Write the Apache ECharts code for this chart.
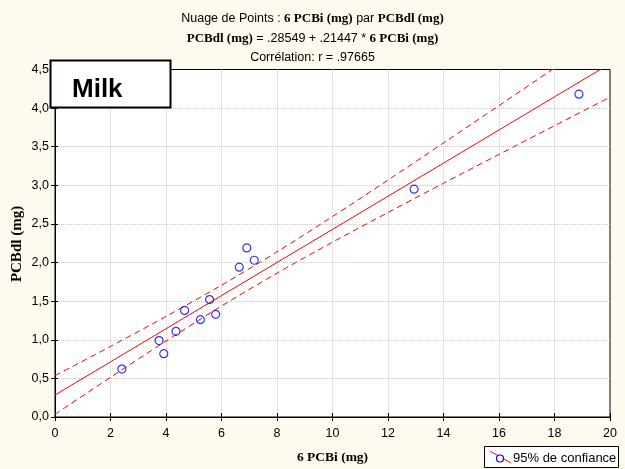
<!DOCTYPE html>
<html><head><meta charset="utf-8">
<script src="https://cdn.jsdelivr.net/npm/echarts@6/dist/echarts.min.js"></script>
<style>html,body{margin:0;padding:0;background:#FFFAF0}#c{width:625px;height:469px}</style>
</head><body><div id="c"></div>
<script>
// Observed points: 6 PCBi (mg) vs PCBdl (mg)
const pcbi = [2.41, 3.75, 3.92, 4.36, 4.67, 5.24, 5.57, 5.79, 6.64, 6.91, 7.18, 12.94, 18.88];
const pcbdl = [0.62, 0.99, 0.82, 1.11, 1.38, 1.26, 1.52, 1.33, 1.94, 2.19, 2.03, 2.95, 4.18];
// Regression line and 95% band, read at these x positions
const bandX = [0, 2, 4, 6, 8, 10, 12, 14, 16, 18, 20];
const fitY = [0.285, 0.714, 1.143, 1.572, 2.001, 2.430, 2.859, 3.288, 3.717, 4.146, 4.575];
const upperY = [0.535, 0.914, 1.302, 1.707, 2.139, 2.596, 3.069, 3.549, 4.033, 4.520, 5.008];
const lowerY = [0.035, 0.514, 0.984, 1.437, 1.863, 2.264, 2.649, 3.027, 3.401, 3.772, 4.142];
const xTicks = [0, 2, 4, 6, 8, 10, 12, 14, 16, 18, 20];
const yTicks = [0, 0.5, 1, 1.5, 2, 2.5, 3, 3.5, 4, 4.5];

const zip = (a, b) => a.map((v, i) => [v, b[i]]);
const chart = echarts.init(document.getElementById('c'));
const sans = 'Liberation Sans, Arial, sans-serif';
const serif = 'Liberation Serif, Times New Roman, serif';
const red = '#ff0000';
const split = {show: true, showMaxLine: false, showMinLine: false, lineStyle: {color: '#c8c8c8', type: [1, 1]}};
chart.setOption({
  backgroundColor: '#FFFAF0',
  animation: false,
  title: {
    left: 'center', top: 4,
    text: '{n|Nuage de Points : }{b|6 PCBi (mg)}{n| par }{b|PCBdl (mg)}\n{b|PCBdl (mg)}{n| = .28549 + .21447 * }{b|6 PCBi (mg)}\n{n|Corrélation: r = .97665}',
    textStyle: {
      fontWeight: 'normal',
      rich: {
        n: {fontFamily: sans, fontSize: 12.5, fontWeight: 'normal', color: '#000', lineHeight: 19.5},
        b: {fontFamily: serif, fontSize: 13, fontWeight: 'bold', color: '#000', lineHeight: 19.5}
      }
    }
  },
  grid: {left: 55, top: 69.5, right: 15, bottom: 52, outerBoundsMode: 'none', containLabel: false,
    show: true, backgroundColor: '#fff', borderColor: '#000', borderWidth: 1},
  xAxis: [{
    type: 'value', min: 0, max: 20, interval: 2,
    name: '6 PCBi (mg)', nameLocation: 'middle', nameGap: 34,
    nameTextStyle: {fontFamily: serif, fontSize: 13.5, fontWeight: 'bold', color: '#000'},
    axisLine: {show: true, lineStyle: {color: '#000'}},
    axisTick: {show: true, inside: true, length: 4, lineStyle: {color: '#000'}},
    axisLabel: {fontFamily: sans, fontSize: 12.5, color: '#000', margin: 10,
      formatter: v => xTicks.includes(v) ? String(v) : ''},
    splitLine: split
  }, {
    type: 'value', min: 0, max: 20, interval: 2, position: 'top',
    axisLine: {show: true, lineStyle: {color: '#000'}},
    axisTick: {show: true, inside: true, length: 4, lineStyle: {color: '#000'}},
    axisLabel: {show: false}, splitLine: {show: false}
  }],
  yAxis: [{
    type: 'value', min: 0, max: 4.5, interval: 0.5,
    axisLine: {show: true, lineStyle: {color: '#000'}},
    axisTick: {show: true, inside: false, length: 4, lineStyle: {color: '#000'}},
    axisLabel: {fontFamily: sans, fontSize: 12.5, color: '#000', margin: 6,
      formatter: v => yTicks.some(t => Math.abs(t - v) < 1e-9) ? v.toFixed(1).replace('.', ',') : ''},
    splitLine: split
  }, {
    type: 'value', min: 0, max: 4.5, interval: 0.5, position: 'right',
    axisLine: {show: true, lineStyle: {color: '#000'}},
    axisTick: {show: true, inside: false, length: 3, lineStyle: {color: '#000'}},
    axisLabel: {show: false}, splitLine: {show: false}
  }],
  series: [
    {type: 'line', data: zip(bandX, fitY), showSymbol: false, clip: true,
      lineStyle: {color: red, width: 1}, z: 3},
    {type: 'line', data: zip(bandX, upperY), showSymbol: false, clip: true, smooth: 0.3,
      lineStyle: {color: red, width: 1, type: [6, 4]}, z: 3},
    {type: 'line', data: zip(bandX, lowerY), showSymbol: false, clip: true, smooth: 0.3,
      lineStyle: {color: red, width: 1, type: [6, 4]}, z: 3},
    {type: 'scatter', data: zip(pcbi, pcbdl), symbol: 'circle', symbolSize: 8,
      itemStyle: {color: 'rgba(0,0,0,0)', borderColor: '#0000ff', borderWidth: 1.2}, z: 4}
  ],
  graphic: [
    {type: 'text', x: 17, y: 244, rotation: Math.PI / 2,
      style: {text: 'PCBdl (mg)', font: 'bold 15px Liberation Serif, Times New Roman, serif', fill: '#000', align: 'center', verticalAlign: 'middle'}, z: 5},
    {type: 'rect', shape: {x: 50.5, y: 60.5, width: 120, height: 47},
      style: {fill: '#fff', stroke: '#000', lineWidth: 2}, z: 10},
    {type: 'text', x: 72, y: 77, style: {text: 'Milk', font: 'bold 26px Liberation Sans, Arial, sans-serif', fill: '#000'}, z: 11},
    {type: 'rect', shape: {x: 484.5, y: 446.5, width: 134, height: 21},
      style: {fill: '#fff', stroke: '#000', lineWidth: 1}, z: 10},
    {type: 'line', shape: {x1: 490, y1: 451, x2: 511, y2: 463}, style: {stroke: red, lineWidth: 1}, z: 11},
    {type: 'circle', shape: {cx: 500, cy: 458.5, r: 3.5}, style: {fill: '#fff', stroke: '#0000ff', lineWidth: 1.2}, z: 12},
    {type: 'text', x: 513, y: 452, style: {text: '95% de confiance', font: '13px Liberation Sans, Arial, sans-serif', fill: '#000'}, z: 11}
  ]
});
</script></body></html>
